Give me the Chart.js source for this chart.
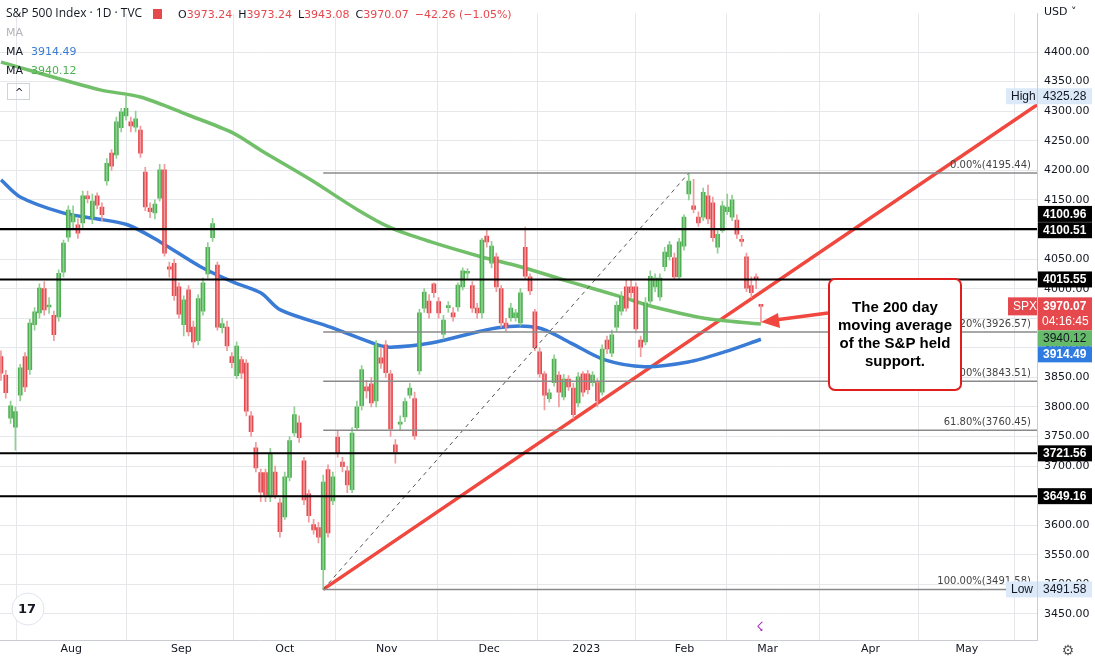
<!DOCTYPE html>
<html>
<head>
<meta charset="utf-8">
<script src="https://cdn.jsdelivr.net/npm/chart.js@4/dist/chart.umd.min.js"></script>
<style>
  html, body { margin: 0; padding: 0; background: #fff; }
  #wrap { width: 1095px; height: 665px; position: relative; }
</style>
</head>
<body>
<div id="wrap"><canvas id="c" width="1095" height="665"></canvas></div>
<script>
// ---- daily candles, mid-Jul 2022 .. 23 Feb 2023 (trading-day index 0..158) ----
const opens = [3885,3854,3781,3766,3820,3885,3863,3939,3959,4000,3969,3955,3952,4028,4087,4113,4108,4111,4157,4120,
  4157,4138,4182,4229,4226,4272,4292,4282,4273,4268,4197,4136,4128,4153,4201,4037,4043,4003,3939,3998,
  3935,3912,3962,4025,4086,4040,3934,3935,3885,3853,3880,3874,3785,3731,3689,3689,3648,3690,3638,3614,
  3681,3756,3773,3709,3653,3601,3596,3525,3694,3641,3749,3707,3692,3660,3765,3802,3834,3839,3810,3883,
  3905,3856,3736,3771,3783,3820,3814,3861,3967,3979,4008,3978,3923,3968,3959,3969,4003,4026,4005,3967,
  3959,4089,4043,4054,4000,3942,3951,3951,3942,4070,4020,3961,3893,3856,3814,3841,3854,3817,3847,3832,
  3807,3856,3856,3841,3841,3825,3913,3891,3935,3962,4003,4003,4003,3913,3910,3979,4003,3986,4037,4054,
  4052,4020,4072,4160,4140,4121,4121,4157,4145,4070,4098,4130,4121,4116,4081,4054,4005,4020,3973.24];
const closes = [3857,3824,3802,3792,3866,3834,3942,3961,4001,3964,3970,3922,4026,4077,4133,4125,4094,4157,4152,4148,
  4141,4125,4212,4207,4282,4299,4305,4275,4287,4229,4138,4130,4143,4201,4060,4033,3988,3957,3981,3927,
  3910,3983,4010,4070,4110,3935,3941,3903,3875,3903,3857,3793,3758,3697,3656,3651,3722,3651,3589,3682,
  3743,3787,3748,3643,3616,3592,3580,3673,3587,3682,3722,3699,3668,3756,3800,3863,3827,3807,3905,3874,
  3858,3763,3724,3773,3809,3832,3751,3959,3994,3959,3993,3959,3947,3969,3952,4006,4030,4027,3967,3959,
  4082,4079,4072,4003,3942,3935,3967,3959,3993,4021,3996,3900,3856,3820,3824,3881,3825,3847,3834,3787,
  3851,3825,3829,3854,3810,3898,3898,3922,3972,3987,3967,3993,3932,3901,3976,4021,4018,4018,4062,4074,
  4020,4079,4121,4182,4134,4111,4163,4118,4086,4092,4140,4138,4150,4092,4080,4001,3993,4016,3970.07];
const highs = [3895,3862,3810,3800,3872,3892,3948,3968,4008,4012,3985,3962,4032,4082,4140,4140,4118,4165,4165,4160,
  4162,4145,4220,4235,4290,4305,4325.28,4290,4300,4275,4205,4145,4150,4210,4210,4045,4050,4010,3988,4005,
  3945,3990,4018,4078,4119,4045,3950,3945,3892,3910,3885,3880,3792,3740,3695,3695,3730,3700,3645,3690,
  3750,3800,3785,3715,3660,3610,3605,3685,3702,3690,3760,3715,3700,3765,3810,3870,3845,3850,3912,3900,
  3912,3862,3745,3785,3815,3840,3825,3965,4000,3990,4010,3985,3955,3978,3968,4010,4035,4034,4012,3975,
  4085,4100,4080,4060,4005,3950,3975,3965,4000,4104,4025,3965,3900,3860,3830,3888,3860,3855,3853,3840,
  3858,3860,3862,3860,3848,3905,3920,3930,3978,3995,4015,4015,4010,3920,3985,4030,4025,4025,4070,4080,
  4060,4085,4125,4195.44,4185,4130,4170,4175,4155,4098,4148,4160,4158,4125,4090,4060,4020,4025,3973.24];
const lows = [3845,3815,3772,3727,3810,3826,3855,3930,3950,3955,3958,3912,3945,4020,4080,4100,4085,4100,4145,4110,
  4135,4115,4175,4200,4220,4265,4285,4265,4265,4222,4132,4120,4118,4148,4055,4020,3980,3950,3920,3920,
  3900,3905,3955,4018,4080,3930,3925,3895,3866,3848,3848,3785,3750,3690,3640,3640,3640,3645,3580,3610,
  3675,3750,3740,3635,3605,3585,3570,3491.58,3580,3635,3715,3690,3655,3655,3760,3795,3815,3800,3800,3865,
  3850,3750,3705,3760,3775,3815,3745,3855,3960,3950,3985,3950,3915,3960,3945,3962,3998,4018,3960,3950,
  3950,4070,4035,3995,3935,3928,3945,3945,3938,4015,3990,3895,3850,3795,3808,3835,3800,3812,3828,3780,
  3800,3818,3822,3835,3800,3820,3890,3885,3928,3955,3962,3985,3925,3885,3905,3975,3995,3980,4030,4048,
  4015,4015,4065,4150,4128,4105,4115,4110,4080,4060,4095,4125,4115,4085,4072,3995,3985,4000,3943.08];

// moving averages, sampled along the line (index, value)
const ma200Idx = [0, 20.6, 29, 38.8, 48.3, 54, 64.4, 74.2, 81, 89.4, 99.8, 108, 118.5, 129, 135.8, 146.3, 158];
const ma200Val = [4383,4336,4324,4294,4263,4234,4184,4133,4103,4079,4054,4037,4011,3986,3969,3950,3940.12];
const ma100Idx = [0, 4, 12.9, 19.2, 26.3, 33.1, 41.5, 48.3, 54, 58.1, 68.5, 78.3, 81, 89.4, 103.3, 111.7, 118.5, 125.4, 133.8, 142.9, 150.4, 158];
const ma100Val = [4184,4155,4128,4119,4108,4079,4037,4011,3993,3964,3935,3905,3901,3908,3934,3934,3908,3880,3868,3876,3893,3914.49];

// horizontal levels & fib retracement
const levels = [4100.96, 4100.51, 4015.55, 3721.56, 3649.16];
const fibPct = ['0.00%', '38.20%', '50.00%', '61.80%', '100.00%'];
const fibVal = [4195.44, 3926.57, 3843.51, 3760.45, 3491.58];
const fibStartIdx = 67;
const fibHighIdx = 143;
const trendEnd = [216, 4314];

const monthLabels = ['Aug', 'Sep', 'Oct', 'Nov', 'Dec', '2023', 'Feb', 'Mar', 'Apr', 'May'];
const monthIdx = [14.6, 37.5, 59, 80.2, 101.5, 121.7, 142.1, 159.4, 180.8, 200.8];
const priceTicks = [3450,3500,3550,3600,3650,3700,3750,3800,3850,3900,3950,4000,4050,4100,4150,4200,4250,4300,4350,4400];

const UP = '#4caf50', DN = '#e5484d', UPW = '#8fcf91', DNW = '#ef9a9c';
const XMIN = -0.2, XMAX = 215.4;

const isUp = closes.map((c, i) => c >= opens[i]);
const bodyData = opens.map((o, i) => ({ x: i, y: [o, closes[i]] }));
const wickData = highs.map((h, i) => ({ x: i, y: [lows[i], h] }));
const seg = (x1, y1, x2, y2) => [{ x: x1, y: y1 }, { x: x2, y: y2 }];
const lineDs = (data, color, width, extra) => Object.assign({
  type: 'line', data, borderColor: color, borderWidth: width, pointRadius: 0, fill: false, tension: 0.3
}, extra || {});

const datasets = [];
levels.forEach(v => datasets.push(lineDs(seg(XMIN, v, XMAX, v), '#000', 2, { tension: 0 })));
fibVal.forEach(v => datasets.push(lineDs(seg(fibStartIdx, v, XMAX, v), '#8a8a8a', 1.5, { tension: 0 })));
datasets.push(lineDs(seg(fibStartIdx, fibVal[4], fibHighIdx, fibVal[0]), '#555', 1, { tension: 0, borderDash: [4, 4] }));
datasets.push({ type: 'bar', data: wickData, backgroundColor: isUp.map(u => u ? UPW : DNW), barThickness: 1, grouped: false });
datasets.push({ type: 'bar', data: bodyData, backgroundColor: isUp.map(u => u ? UP : DN), barThickness: 4, minBarLength: 2, grouped: false });
datasets.push(lineDs(ma100Idx.map((x, i) => ({ x, y: ma100Val[i] })), '#3a7bd5', 3.5));
datasets.push(lineDs(ma200Idx.map((x, i) => ({ x, y: ma200Val[i] })), '#72bf6a', 3.5));
datasets.push(lineDs(seg(fibStartIdx, fibVal[4], trendEnd[0], trendEnd[1]), '#f0473e', 3.5, { tension: 0 }));

function box(ctx, x, y, w, h, bg, fg, text, bold) {
  ctx.fillStyle = bg; ctx.fillRect(x, y, w, h);
  ctx.fillStyle = fg; ctx.font = (bold ? 'bold ' : '') + '12px "Liberation Sans", Arial';
  ctx.textAlign = 'left'; ctx.textBaseline = 'middle';
  ctx.fillText(text, x + 5, y + h / 2 + 0.5);
}

const overlay = {
  id: 'overlay',
  afterDraw(chart) {
    const ctx = chart.ctx, ys = chart.scales.y, a = chart.chartArea;
    const py = v => ys.getPixelForValue(v);
    ctx.save();
    // fib labels
    ctx.font = '10px "DejaVu Sans"'; ctx.fillStyle = '#444'; ctx.textAlign = 'right'; ctx.textBaseline = 'bottom';
    fibVal.forEach((v, i) => ctx.fillText(fibPct[i] + '(' + v.toFixed(2) + ')', a.right - 6, py(v) - 3));

    // header
    ctx.textBaseline = 'middle'; ctx.textAlign = 'left';
    ctx.font = '12px "Open Sans"'; ctx.fillStyle = '#131722';
    ctx.fillText('S&P 500 Index · 1D · TVC', 6, 14);
    ctx.fillStyle = '#e5484d'; ctx.fillRect(153, 9, 9, 10);
    ctx.font = '11px "DejaVu Sans"';
    let x = 178;
    [['O', '3973.24'], ['H', '3973.24'], ['L', '3943.08'], ['C', '3970.07']].forEach(p => {
      ctx.fillStyle = '#131722'; ctx.fillText(p[0], x, 15); x += ctx.measureText(p[0]).width;
      ctx.fillStyle = '#e5484d'; ctx.fillText(p[1], x, 15); x += ctx.measureText(p[1]).width + 6;
    });
    ctx.fillStyle = '#e5484d'; ctx.fillText('\u221242.26 (\u22121.05%)', x, 15);
    ctx.font = '11px "DejaVu Sans"';
    ctx.fillStyle = '#b0b3b8'; ctx.fillText('MA', 6, 33);
    ctx.fillStyle = '#131722'; ctx.fillText('MA', 6, 52); ctx.fillText('MA', 6, 71);
    ctx.fillStyle = '#3a7bd5'; ctx.fillText('3914.49', 31, 52);
    ctx.fillStyle = '#4caf50'; ctx.fillText('3940.12', 31, 71);
    ctx.strokeStyle = '#d0d3d8'; ctx.lineWidth = 1; ctx.strokeRect(7.5, 83.5, 22, 16);
    ctx.fillStyle = '#131722'; ctx.font = '10px "DejaVu Sans"'; ctx.fillText('^', 15, 93);

    // annotation box + arrow
    ctx.fillStyle = '#fff'; ctx.strokeStyle = '#e01e1e'; ctx.lineWidth = 2;
    ctx.beginPath(); ctx.roundRect(829, 279, 132, 111, 6); ctx.fill(); ctx.stroke();
    ctx.fillStyle = '#000'; ctx.font = 'bold 15px "Liberation Sans", Arial'; ctx.textAlign = 'center';
    ['The 200 day', 'moving average', 'of the S&P held', 'support.'].forEach((t, i) => ctx.fillText(t, 895, 308 + i * 18));
    ctx.strokeStyle = '#f0473e'; ctx.fillStyle = '#f0473e'; ctx.lineWidth = 3.5;
    ctx.beginPath(); ctx.moveTo(828, 313); ctx.lineTo(775, 320); ctx.stroke();
    ctx.beginPath(); ctx.moveTo(761, 322); ctx.lineTo(778, 313); ctx.lineTo(780, 328); ctx.closePath(); ctx.fill();

    // price axis labels
    const R = a.right + 1, W = 54;
    box(ctx, R, py(4325.28) - 8, W, 16, '#dbe9f8', '#131722', '4325.28');
    box(ctx, R - 32, py(4325.28) - 8, 31, 16, '#dbe9f8', '#131722', 'High');
    box(ctx, R, py(4100.96) - 23, W, 16, '#000', '#fff', '4100.96', true);
    box(ctx, R, py(4100.51) - 7, W, 16, '#000', '#fff', '4100.51', true);
    box(ctx, R, py(4015.55) - 8, W, 16, '#000', '#fff', '4015.55', true);
    ctx.fillStyle = '#e5484d'; ctx.fillRect(R, py(3970.07) - 9, W, 33);
    ctx.fillStyle = '#fff'; ctx.font = 'bold 12px "Liberation Sans", Arial'; ctx.textAlign = 'left'; ctx.textBaseline = 'middle';
    ctx.fillText('3970.07', R + 5, py(3970.07));
    ctx.font = '12px "Liberation Sans", Arial'; ctx.fillText('04:16:45', R + 4, py(3970.07) + 15);
    box(ctx, R - 30, py(3970.07) - 9, 29, 18, '#e5484d', '#fff', 'SPX');
    box(ctx, R, py(3970.07) + 24, W, 16, '#66bb6a', '#131722', '3940.12');
    box(ctx, R, py(3970.07) + 40, W, 16, '#2f7be0', '#fff', '3914.49', true);
    box(ctx, R, py(3721.56) - 8, W, 16, '#000', '#fff', '3721.56', true);
    box(ctx, R, py(3649.16) - 8, W, 16, '#000', '#fff', '3649.16', true);
    box(ctx, R, py(3491.58) - 8, W, 16, '#dbe9f8', '#131722', '3491.58');
    box(ctx, R - 32, py(3491.58) - 8, 31, 16, '#dbe9f8', '#131722', 'Low');
    ctx.fillStyle = '#131722'; ctx.font = '11px "DejaVu Sans"'; ctx.textAlign = 'left';
    ctx.fillText('USD \u02c5', 1044, 12);

    // logo + gear
    ctx.fillStyle = '#fff'; ctx.strokeStyle = '#e0e3eb'; ctx.lineWidth = 1;
    ctx.beginPath(); ctx.arc(28, 609, 16, 0, Math.PI * 2); ctx.fill(); ctx.stroke();
    ctx.fillStyle = '#131722'; ctx.font = 'bold 13px "DejaVu Sans"'; ctx.textAlign = 'center';
    ctx.fillText('17', 27, 610);
    ctx.font = '14px "DejaVu Sans"'; ctx.fillStyle = '#555'; ctx.fillText('\u2699', 1068, 651);
    ctx.fillStyle = '#9c27b0'; ctx.font = '13px "DejaVu Sans"'; ctx.fillText('\u2607', 760, 628);
    ctx.restore();
  }
};

new Chart(document.getElementById('c'), {
  type: 'bar',
  data: { datasets },
  options: {
    responsive: false, animation: false,
    layout: { padding: 0 },
    plugins: { legend: { display: false }, tooltip: { enabled: false } },
    scales: {
      x: {
        type: 'linear', min: XMIN, max: XMAX, offset: false,
        afterBuildTicks: s => { s.ticks = monthIdx.map(v => ({ value: v })); },
        afterFit: s => { s.height = 25; },
        ticks: {
          autoSkip: false, maxRotation: 0, color: '#131722', font: { size: 11, family: 'DejaVu Sans' },
          callback: (v, i) => monthLabels[i]
        },
        grid: { color: '#e6e7ea', drawTicks: false },
        border: { color: '#c9ccd1' }
      },
      y: {
        position: 'right', min: 3406, max: 4465,
        afterBuildTicks: s => { s.ticks = priceTicks.map(v => ({ value: v })); },
        afterFit: s => { s.width = 58; },
        ticks: { color: '#131722', padding: 7, font: { size: 11, family: 'DejaVu Sans' }, callback: v => v.toFixed(2) },
        grid: { color: '#e6e7ea', drawTicks: false },
        border: { color: '#c9ccd1' }
      }
    }
  },
  plugins: [overlay]
});
</script>
</body>
</html>
